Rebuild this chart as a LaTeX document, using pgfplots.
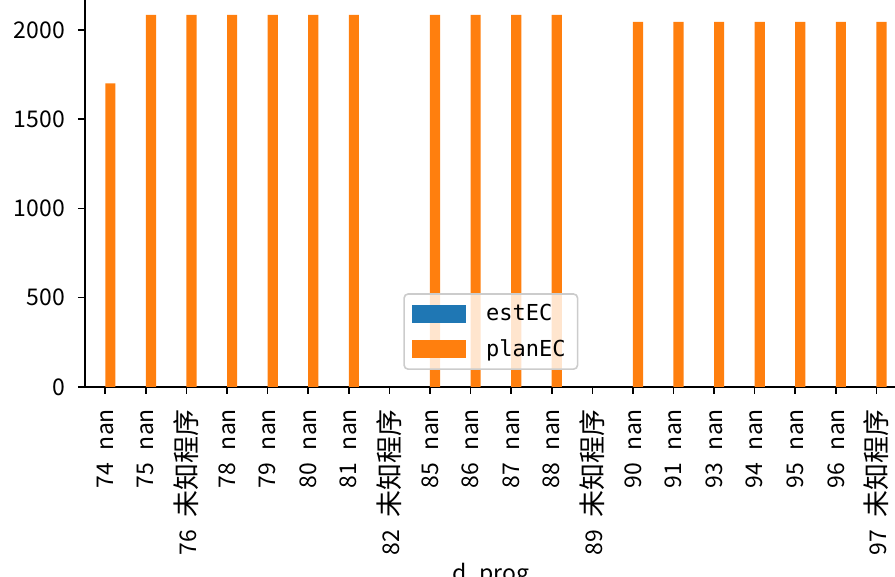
\documentclass[border=0pt]{standalone}
\usepackage{fontspec}
\setmainfont{Noto Sans CJK SC}
\newfontfamily\legfont{DejaVu Sans Mono}
\usepackage{pgfplots}
\pgfplotsset{compat=1.18}
\definecolor{c0}{HTML}{1F77B4}
\definecolor{c1}{HTML}{FF7F0E}
\newcommand{\nn}[1]{#1\hspace{0.55em}nan}
\newcommand{\wz}[1]{#1\hspace{0.55em}{\fontsize{13.5}{15}\selectfont 未知程序}}
\begin{document}
\begin{tikzpicture}
\begin{axis}[
  width=405.9pt, height=195.4pt, scale only axis,
  xmin=-0.5, xmax=19.5, ymin=0, ymax=2189,
  axis x line*=bottom, axis y line*=left,
  axis line style={line width=0.8pt, black},
  tick align=outside, major tick length=3.5pt,
  tick style={line width=0.8pt, black},
  tick label style={font=\fontsize{11.5}{13}\selectfont},
  label style={font=\fontsize{11.5}{13}\selectfont},
  xtick={0,...,19},
  xticklabels={\nn{74},\nn{75},\wz{76},\nn{78},\nn{79},\nn{80},\nn{81},\wz{82},\nn{85},\nn{86},\nn{87},\nn{88},\wz{89},\nn{90},\nn{91},\nn{93},\nn{94},\nn{95},\nn{96},\wz{97}},
  x tick label style={rotate=90, anchor=east, xshift=-4pt},
  y tick label style={xshift=-3pt},
  ytick={0,500,1000,1500,2000},
  /pgf/number format/assume math mode=true,
  /pgf/number format/1000 sep={},
  scaled y ticks=false,
  xlabel={d\_prog},
  xlabel style={yshift=3pt},
  ybar, bar width=0.25, bar shift=0.125,
  legend image code/.code={\fill[#1, sharp corners, fill opacity=1] (0pt,-4.5pt) rectangle (27pt,4.5pt);},
  legend cell align=left,
  legend style={at={(0.5,0.0435)}, anchor=south,
    font=\legfont\fontsize{11}{13}\selectfont,
    draw=black!20, line width=0.8pt, rounded corners=2pt,
    fill=white, fill opacity=0.8, text opacity=1,
    row sep=4pt, inner xsep=4pt, inner ysep=3pt,
    /tikz/every odd column/.append style={column sep=8pt}},
]
\addlegendimage{fill=c0, draw=none}
\addlegendentry{estEC}
\addplot[fill=c1, draw=none] coordinates {
(0,1700)(1,2085)(2,2085)(3,2085)(4,2085)(5,2085)(6,2085)
(8,2085)(9,2085)(10,2085)(11,2085)
(13,2045)(14,2045)(15,2045)(16,2045)(17,2045)(18,2045)(19,2045)
};
\addlegendentry{planEC}
\coordinate (bl) at (rel axis cs:0,0);
\coordinate (tr) at (rel axis cs:1,1);
\end{axis}
\pgfresetboundingbox
\path ([shift={(-42.5pt,-95pt)}]bl) rectangle ([shift={(-0.85pt,-1.9pt)}]tr);
\end{tikzpicture}
\end{document}
